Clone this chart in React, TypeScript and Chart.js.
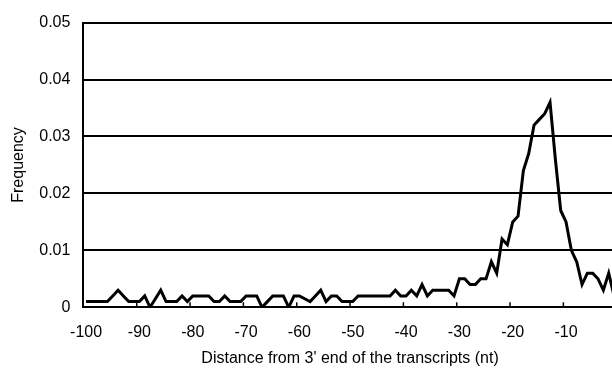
import { useEffect, useRef } from "react";
import { Chart, registerables } from "chart.js";

Chart.register(...registerables);

const distances = [
  -100, -99, -98, -97, -96, -95, -94, -93, -92, -91,
  -90, -89, -88, -87, -86, -85, -84, -83, -82, -81,
  -80, -79, -78, -77, -76, -75, -74, -73, -72, -71,
  -70, -69, -68, -67, -66, -65, -64, -63, -62, -61,
  -60, -59, -58, -57, -56, -55, -54, -53, -52, -51,
  -50, -49, -48, -47, -46, -45, -44, -43, -42, -41,
  -40, -39, -38, -37, -36, -35, -34, -33, -32, -31,
  -30, -29, -28, -27, -26, -25, -24, -23, -22, -21,
  -20, -19, -18, -17, -16, -15, -14, -13, -12, -11,
  -10, -9, -8, -7, -6, -5, -4, -3, -2, -1,
];

const frequency = [
  0.001, 0.001, 0.001, 0.001, 0.001, 0.002, 0.003, 0.002, 0.001, 0.001,
  0.001, 0.002, 0.0, 0.0015, 0.003, 0.001, 0.001, 0.001, 0.002, 0.001,
  0.002, 0.002, 0.002, 0.002, 0.001, 0.001, 0.002, 0.001, 0.001, 0.001,
  0.002, 0.002, 0.002, 0.0, 0.001, 0.002, 0.002, 0.002, 0.0, 0.002,
  0.002, 0.0015, 0.001, 0.002, 0.003, 0.001, 0.002, 0.002, 0.001, 0.001,
  0.001, 0.002, 0.002, 0.002, 0.002, 0.002, 0.002, 0.002, 0.003, 0.002,
  0.002, 0.003, 0.002, 0.004, 0.002, 0.003, 0.003, 0.003, 0.003, 0.002,
  0.005, 0.005, 0.004, 0.004, 0.005, 0.005, 0.008, 0.006, 0.012, 0.011,
  0.015, 0.016, 0.024, 0.027, 0.032, 0.033, 0.034, 0.036, 0.026, 0.017,
  0.015, 0.01, 0.008, 0.004, 0.006, 0.006, 0.005, 0.003, 0.006, 0.002,
];

const xTickValues = [-100, -90, -80, -70, -60, -50, -40, -30, -20, -10];
const yTickValues = [0, 0.01, 0.02, 0.03, 0.04, 0.05];

const FONT_FAMILY = "Arial, 'Liberation Sans', Helvetica, sans-serif";

export default function App() {
  const ref = useRef<HTMLCanvasElement>(null);

  useEffect(() => {
    const canvas = ref.current;
    if (!canvas) return;

    const innerTicks = {
      id: "innerTicks",
      beforeDatasetsDraw(chart: any) {
        const { ctx, chartArea } = chart;
        const xs = chart.scales.x;
        ctx.save();
        ctx.strokeStyle = "#000";
        ctx.lineWidth = 1.5;
        for (const v of xTickValues) {
          if (v === -100) continue;
          const px = xs.getPixelForValue(v - 0.5);
          ctx.beginPath();
          ctx.moveTo(px, chartArea.bottom);
          ctx.lineTo(px, chartArea.bottom - 5);
          ctx.stroke();
        }
        ctx.restore();
      },
    };

    const font = { family: FONT_FAMILY, size: 16 };

    const chart = new Chart(canvas, {
      type: "line",
      data: {
        datasets: [
          {
            data: distances.map((d, i) => ({ x: d, y: frequency[i] })),
            borderColor: "#000",
            borderWidth: 3,
            pointRadius: 0,
            tension: 0,
            fill: false,
          },
        ],
      },
      options: {
        animation: false,
        responsive: false,
        devicePixelRatio: 1,
        layout: { padding: { top: 18, right: 3.3, bottom: 0, left: 0 } },
        plugins: {
          legend: { display: false },
          tooltip: { enabled: false },
        },
        scales: {
          x: {
            type: "linear",
            min: -100.5,
            max: -0.5,
            afterBuildTicks: (s: any) => {
              s.ticks = xTickValues.map((v) => ({ value: v }));
            },
            afterFit: (s: any) => {
              s.height = 63.7;
            },
            grid: { display: false, drawOnChartArea: false, drawTicks: false },
            border: { display: true, color: "#000", width: 2 },
            ticks: {
              color: "#000",
              font,
              padding: 16,
              maxRotation: 0,
              autoSkip: false,
              callback: (v: any) => String(v),
            },
            title: {
              display: true,
              text: "Distance from 3' end of the transcripts (nt)",
              color: "#000",
              font,
              padding: { top: 0, bottom: 3 },
            },
          },
          y: {
            type: "linear",
            min: 0,
            max: 0.05,
            afterBuildTicks: (s: any) => {
              s.ticks = yTickValues.map((v) => ({ value: v }));
            },
            afterFit: (s: any) => {
              s.width = 83.4;
            },
            grid: { color: "#000", lineWidth: 2, drawTicks: false },
            border: { display: true, color: "#000", width: 2 },
            ticks: {
              color: "#000",
              font,
              padding: 13,
              callback: (v: any) => (Number(v) === 0 ? "0" : Number(v).toFixed(2)),
            },
            title: {
              display: true,
              text: "Frequency",
              color: "#000",
              font,
              padding: { top: 9, bottom: 0 },
            },
          },
        },
      },
      plugins: [innerTicks],
    } as any);

    return () => chart.destroy();
  }, []);

  return (
    <div
      style={{
        position: "absolute",
        left: 0,
        top: 0,
        width: 612,
        height: 371,
        overflow: "hidden",
        background: "#fff",
      }}
    >
      <canvas ref={ref} width={620} height={371} style={{ display: "block" }} />
    </div>
  );
}
